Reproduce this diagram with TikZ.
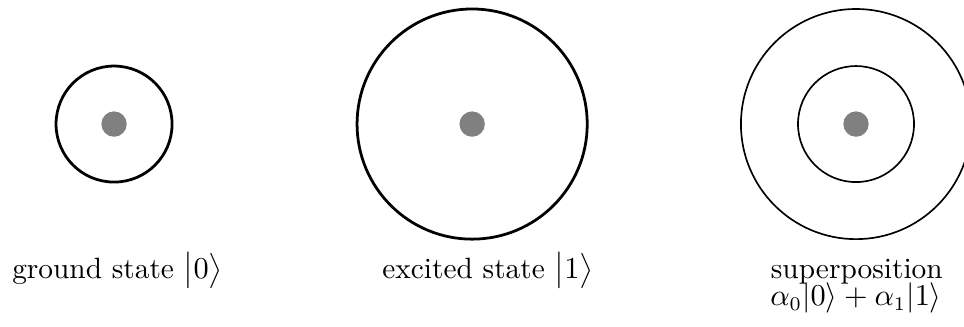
\documentclass[tikz,border=0pt]{standalone}
\usepackage{amsmath,amssymb}
\usepackage{tikz}
\usetikzlibrary{positioning,calc}
\definecolor{Core}{HTML}{808080}
\newcommand{\qket}[1]{\bigl|#1\bigr\rangle}

\begin{document}
\begin{tikzpicture}[x=1cm,y=1cm,font=\fontsize{10.6pt}{12.7pt}\selectfont]
        \useasboundingbox (0,0) rectangle (12.23,4.137);
        % orbits
        \draw[line width=1pt] (1.447,2.563) circle (0.736);
        \draw[line width=1pt] (5.99,2.563) circle (1.46);
        \draw[line width=0.6pt] (10.86,2.563) circle (0.736);
        \draw[line width=0.6pt] (10.86,2.563) circle (1.46);
        \foreach \x in {1.447,5.99,10.86}
          \fill[Core] (\x,2.563) circle (0.161);
        \node[anchor=base] (ground) at (1.49,0.609) {ground state $\qket{0}$};
        \node[anchor=base] (excited) at (6.19,0.609) {excited state $\qket{1}$};
        \node[anchor=base] (super) at (10.87,0.609) {superposition};
        \node[anchor=base] (superket) at (10.86,0.255) {$\alpha_0|0\rangle+\alpha_1|1\rangle$};
      \end{tikzpicture}
\end{document}
